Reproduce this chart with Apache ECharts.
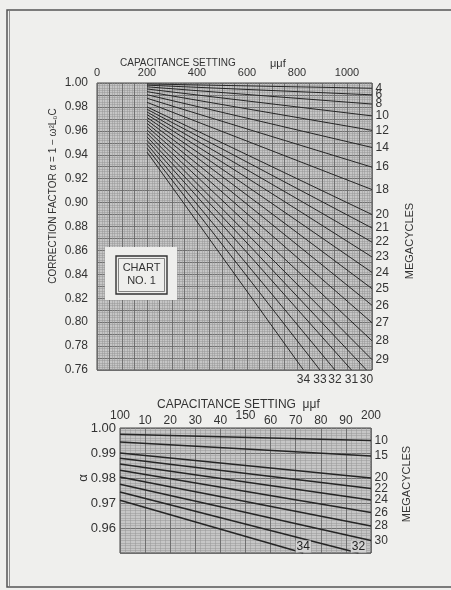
<!DOCTYPE html>
<html>
<head>
<meta charset="utf-8">
<script src="https://cdn.jsdelivr.net/npm/echarts@6/dist/echarts.min.js"></script>
<style>
html,body{margin:0;padding:0;background:#efefed;}
#main{width:451px;height:590px;}
</style>
</head>
<body>
<div id="main"></div>
<script>
// ---- Chart 1 (top): capacitance 0..1100 uuf, correction factor 0.76..1.00
const topFreqs = [4,6,8,10,12,14,16,18,20,21,22,23,24,25,26,27,28,29,30,31,32,33,34];
const topStartC = [200,200,200,200,200,200,200,200,200,200,200,200,200,200,200,200,200,200,200,200,200,200,200];
const topStartAlpha = [0.9992,0.9982,0.9968,0.995,0.9928,0.9902,0.9872,0.9838,0.98,0.978,0.9758,0.9736,0.9712,0.9688,0.9662,0.9636,0.9608,0.958,0.955,0.952,0.9488,0.9456,0.9422];
const topEndC = [1100,1100,1100,1100,1100,1100,1100,1100,1100,1100,1100,1100,1100,1100,1100,1100,1100,1100,1078,1018,952,892,826];
const topEndAlpha = [0.9956,0.9901,0.9824,0.9725,0.9604,0.9461,0.9296,0.9109,0.89,0.8787,0.8669,0.8545,0.8416,0.828,0.8141,0.7995,0.7844,0.7687,0.76,0.76,0.76,0.76,0.76];
const topXTicks = [0,200,400,600,800,1000];

// ---- Chart 2 (bottom): capacitance 100..200 uuf, alpha 0.95..1.00
const botFreqs = [10,15,20,22,24,26,28,30,32,34];
const botStartC = [100,100,100,100,100,100,100,100,100,100];
const botStartAlpha = [0.9975,0.9944,0.99,0.9879,0.9856,0.9831,0.9804,0.9775,0.9744,0.9711];
const botEndC = [200,200,200,200,200,200,200,200,195,173];
const botEndAlpha = [0.995,0.9888,0.98,0.9758,0.9712,0.9662,0.9608,0.955,0.95,0.95];
const botYTicks = ['1.00','0.99','0.98','0.97','0.96'];

const FONT = '"Liberation Sans", Arial, sans-serif';
const TXT = '#333';
const PLOT_BG = '#c6c6c6';

const chart = echarts.init(document.getElementById('main'), null, {renderer:'canvas'});

function gridAxisStyle(){
  return {
    axisLine:{show:false}, axisTick:{show:false},
    splitLine:{show:true, lineStyle:{color:'#686868', width:0.9}},
    minorTick:{show:false, splitNumber:5},
    minorSplitLine:{show:true, lineStyle:{color:'#979797', width:0.5}}
  };
}

const series = [];
topFreqs.forEach((f,i)=>{
  const bottomEnd = topEndAlpha[i] <= 0.76;
  series.push({
    type:'line', xAxisIndex:0, yAxisIndex:0, name:'t'+f, silent:true,
    symbol:'circle', symbolSize:1, itemStyle:{color:'rgba(0,0,0,0)'},
    lineStyle:{color:'#252525', width:1},
    data:[[topStartC[i], topStartAlpha[i]],
      {value:[topEndC[i], topEndAlpha[i]],
       label:{show:true, formatter:String(f), position: bottomEnd?'bottom':'right',
              distance:3, color:TXT, fontSize:12, fontFamily:FONT}}]
  });
});
botFreqs.forEach((f,i)=>{
  const inside = botEndAlpha[i] <= 0.95;
  series.push({
    type:'line', xAxisIndex:1, yAxisIndex:1, name:'b'+f, silent:true,
    symbol:'circle', symbolSize:1, itemStyle:{color:'rgba(0,0,0,0)'},
    lineStyle:{color:'#252525', width:1.6},
    data:[[botStartC[i], botStartAlpha[i]],
      {value:[botEndC[i], botEndAlpha[i]],
       label: inside ?
         {show:true, formatter:String(f), position:'top', distance:0, color:'#222', fontSize:12, fontFamily:FONT,
          backgroundColor:'#d2d2d2', padding:[0,1]} :
         {show:true, formatter:String(f), position:'right', distance:3, color:TXT, fontSize:12, fontFamily:FONT}}]
  });
});

const BOXZ = 100;
const option = {
  backgroundColor:'#efefed',
  animation:false,
  grid:[
    {left:97, top:83, width:275, height:287, show:true, backgroundColor:PLOT_BG, borderColor:'#444', borderWidth:1},
    {left:120, top:428, width:251, height:125, show:true, backgroundColor:PLOT_BG, borderColor:'#444', borderWidth:1}
  ],
  xAxis:[
    Object.assign({type:'value', gridIndex:0, position:'top', min:0, max:1100, interval:50,
      axisLabel:{margin:5, color:TXT, fontSize:11, fontFamily:FONT,
        formatter:v=> topXTicks.indexOf(Math.round(v))>=0 ? String(Math.round(v)) : ''}}, gridAxisStyle()),
    Object.assign({type:'value', gridIndex:1, position:'top', min:100, max:200, interval:10,
      axisLabel:{margin:1, color:TXT, fontSize:12, fontFamily:FONT,
        formatter:v=> (Math.round(v)%50===0) ? '' : String(Math.round(v)%100)}}, gridAxisStyle()),
    {type:'value', gridIndex:1, position:'top', min:100, max:200, interval:50,
      axisLine:{show:false}, axisTick:{show:false}, splitLine:{show:false},
      axisLabel:{margin:6, color:TXT, fontSize:12, fontFamily:FONT, formatter:v=>String(Math.round(v))}}
  ],
  yAxis:[
    Object.assign({type:'value', gridIndex:0, min:0.76, max:1.0, interval:0.01,
      axisLabel:{margin:9, color:TXT, fontSize:12, fontFamily:FONT,
        formatter:v=> (Math.round(v*100)%2===0) ? v.toFixed(2) : ''}}, gridAxisStyle()),
    Object.assign({type:'value', gridIndex:1, min:0.95, max:1.0, interval:0.01,
      axisLabel:{margin:4, color:TXT, fontSize:13, fontFamily:FONT,
        formatter:v=> botYTicks.indexOf(v.toFixed(2))>=0 ? v.toFixed(2) : ''}},
      gridAxisStyle(), {minorTick:{show:false, splitNumber:10}})
  ],
  series: series,
  graphic:[
    // outer frame
    {type:'rect', shape:{x:7, y:10, width:460, height:577}, style:{fill:'none', stroke:'#555', lineWidth:1.5}, z:0, silent:true},
    {type:'line', shape:{x1:9.5, y1:10, x2:9.5, y2:587}, style:{stroke:'#777', lineWidth:0.8}, silent:true},
    // top titles
    {type:'text', x:120, y:63, silent:true,
      style:{text:'CAPACITANCE SETTING', fill:TXT, font:'10px '+FONT, textAlign:'left', textVerticalAlign:'middle', align:'left', verticalAlign:'middle'}},
    {type:'text', x:270, y:64, silent:true,
      style:{text:'μμf', fill:TXT, font:'11px '+FONT, textAlign:'left', textVerticalAlign:'middle', align:'left', verticalAlign:'middle'}},
    {type:'text', x:53, y:196, rotation:Math.PI/2, silent:true,
      style:{text:'CORRECTION FACTOR α = 1 − ω²L₀C', fill:TXT, font:'10px '+FONT, textAlign:'center', textVerticalAlign:'middle', align:'center', verticalAlign:'middle'}},
    {type:'text', x:410, y:241, rotation:Math.PI/2, silent:true,
      style:{text:'MEGACYCLES', fill:TXT, font:'11px '+FONT, textAlign:'center', textVerticalAlign:'middle', align:'center', verticalAlign:'middle'}},
    // chart no. 1 box
    {type:'rect', z:BOXZ, silent:true, shape:{x:105, y:247, width:72, height:53}, style:{fill:'#eeeeec', stroke:'none'}},
    {type:'rect', z:BOXZ+1, silent:true, shape:{x:116, y:256, width:51, height:38}, style:{fill:'none', stroke:'#333', lineWidth:1.4}},
    {type:'rect', z:BOXZ+1, silent:true, shape:{x:118.5, y:258.5, width:46, height:33}, style:{fill:'none', stroke:'#555', lineWidth:0.7}},
    {type:'text', z:BOXZ+2, silent:true, x:141.5, y:268, style:{text:'CHART', fill:TXT, font:'11px '+FONT, textAlign:'center', textVerticalAlign:'middle', align:'center', verticalAlign:'middle'}},
    {type:'text', z:BOXZ+2, silent:true, x:141.5, y:281, style:{text:'NO. 1', fill:TXT, font:'11px '+FONT, textAlign:'center', textVerticalAlign:'middle', align:'center', verticalAlign:'middle'}},
    // bottom titles
    {type:'text', x:157, y:405, silent:true,
      style:{text:'CAPACITANCE SETTING  μμf', fill:TXT, font:'12px '+FONT, textAlign:'left', textVerticalAlign:'middle', align:'left', verticalAlign:'middle'}},
    {type:'text', x:83, y:478, rotation:Math.PI/2, silent:true,
      style:{text:'α', fill:TXT, font:'13px '+FONT, textAlign:'center', textVerticalAlign:'middle', align:'center', verticalAlign:'middle'}},
    {type:'text', x:407, y:484, rotation:Math.PI/2, silent:true,
      style:{text:'MEGACYCLES', fill:TXT, font:'11px '+FONT, textAlign:'center', textVerticalAlign:'middle', align:'center', verticalAlign:'middle'}}
  ]
};
chart.setOption(option);
</script>
</body>
</html>
